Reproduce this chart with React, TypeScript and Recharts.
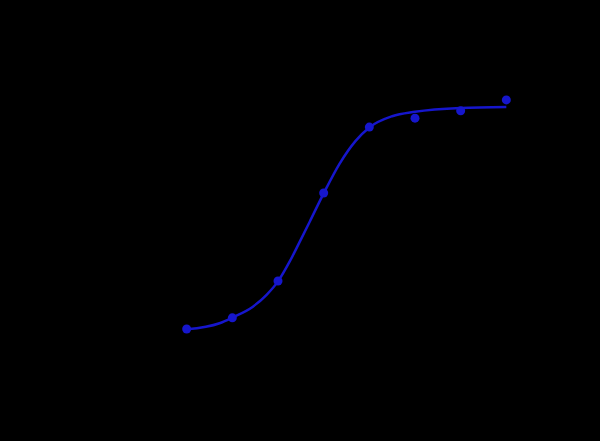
import { ComposedChart, Line, Scatter, XAxis, YAxis } from 'recharts';

// measured points (log dose step, response %)
const doseSteps = [0, 1, 2, 3, 4, 5, 6, 7];
const responses = [12.8, 16.3, 27.8, 55.3, 75.9, 78.7, 81.0, 84.4];

// fitted curve
const fitX = [0, 0.72, 1, 1.45, 1.75, 2, 2.26, 2.48, 2.7, 3, 3.35, 3.7, 4, 4.5, 5, 6, 7];
const fitY = [12.7, 14.6, 16.4, 19.8, 23.5, 27.7, 34.0, 40.2, 46.5, 55.2, 64.5, 71.6, 75.8, 79.3, 80.7, 81.9, 82.2];

const points = doseSteps.map((x, i) => ({ x, y: responses[i] }));
const fit = fitX.map((x, i) => ({ x, y: fitY[i] }));

const BLUE = '#1616cc';

export default function App() {
  return (
    <div
      style={{
        position: 'fixed',
        top: 0,
        left: 0,
        width: 600,
        height: 441,
        background: '#000',
      }}
    >
      <ComposedChart
        width={600}
        height={441}
        margin={{ top: 50, right: 48, bottom: 71, left: 141 }}
      >
        <XAxis type="number" dataKey="x" domain={[-1, 8]} hide />
        <YAxis type="number" dataKey="y" domain={[0, 100]} hide />
        <Line
          data={fit}
          dataKey="y"
          type="monotone"
          stroke={BLUE}
          strokeWidth={2.5}
          dot={false}
          activeDot={false}
          isAnimationActive={false}
        />
        <Scatter
          data={points}
          dataKey="y"
          fill={BLUE}
          shape={(p: any) => <circle cx={p.cx} cy={p.cy} r={4.5} fill={BLUE} />}
          isAnimationActive={false}
        />
      </ComposedChart>
    </div>
  );
}
